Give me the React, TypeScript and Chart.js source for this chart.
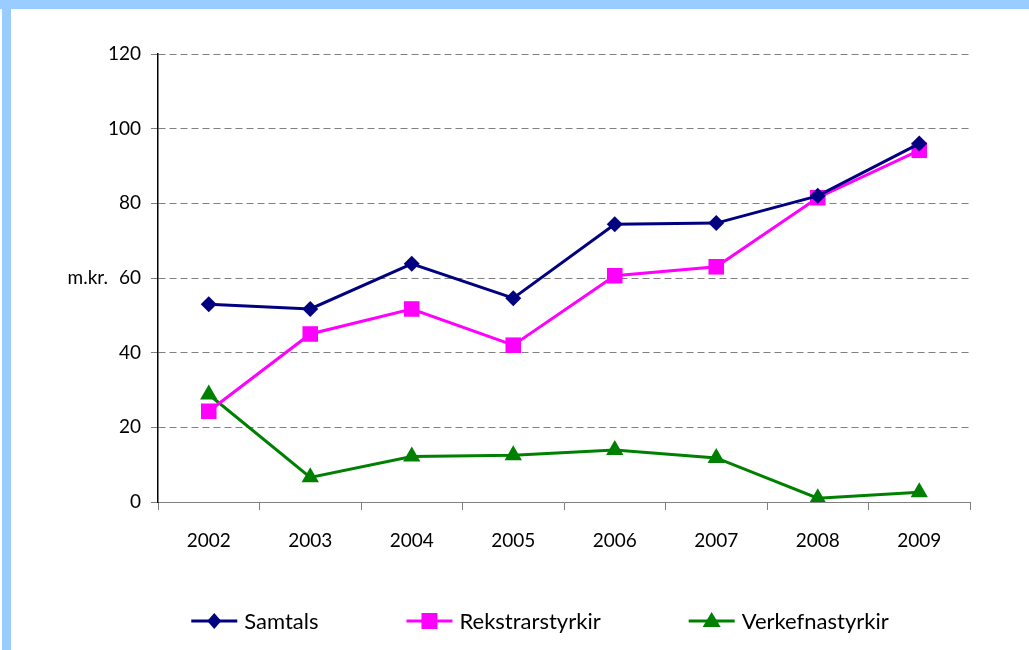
import React, { useEffect, useRef } from "react";
import { Chart, registerables } from "chart.js";

Chart.register(...registerables);

const years = ["2002", "2003", "2004", "2005", "2006", "2007", "2008", "2009"];
const samtals = [53.0, 51.7, 63.8, 54.6, 74.4, 74.7, 82.0, 96.0];
const rekstrarstyrkir = [24.3, 45.0, 51.7, 42.0, 60.6, 63.0, 81.5, 94.2];
const verkefnastyrkir = [28.8, 6.6, 12.2, 12.5, 13.9, 11.8, 1.0, 2.6];
const yMax = 120;
const yStep = 20;
const yUnitLabel = "m.kr.";
const yUnitAt = 60;
const seriesNames = ["Samtals", "Rekstrarstyrkir", "Verkefnastyrkir"];

const FONT = "Lato, 'Noto Sans', sans-serif";

function drawMarker(ctx: CanvasRenderingContext2D, style: string, x: number, y: number, color: string) {
  ctx.save();
  ctx.fillStyle = color;
  ctx.beginPath();
  if (style === "rectRot") {
    ctx.moveTo(x, y - 8);
    ctx.lineTo(x + 7, y);
    ctx.lineTo(x, y + 8);
    ctx.lineTo(x - 7, y);
  } else if (style === "rect") {
    ctx.rect(x - 8, y - 8, 16, 16);
  } else {
    ctx.moveTo(x, y - 9);
    ctx.lineTo(x + 9, y + 6);
    ctx.lineTo(x - 9, y + 6);
  }
  ctx.closePath();
  ctx.fill();
  ctx.restore();
}

const extrasPlugin = {
  id: "extras",
  afterDraw(chart: any) {
    const ctx = chart.ctx as CanvasRenderingContext2D;
    const yScale = chart.scales.y;
    ctx.save();
    ctx.font = `19px ${FONT}`;
    ctx.fillStyle = "#000";
    ctx.textAlign = "right";
    ctx.textBaseline = "middle";
    ctx.fillText(yUnitLabel, 108, yScale.getPixelForValue(yUnitAt));
    ctx.restore();

    ctx.save();
    ctx.font = `22px ${FONT}`;
    ctx.textBaseline = "middle";
    ctx.textAlign = "left";
    const lineW = 46;
    const gapText = 7;
    const gapItems = 88;
    const ds = chart.data.datasets;
    const widths = ds.map((d: any) => lineW + gapText + ctx.measureText(d.label).width);
    const total = widths.reduce((a: number, b: number) => a + b, 0) + gapItems * (ds.length - 1);
    let x = 540 - total / 2;
    const y = 621;
    ds.forEach((d: any, i: number) => {
      ctx.strokeStyle = d.borderColor;
      ctx.lineWidth = 3;
      ctx.beginPath();
      ctx.moveTo(x, y);
      ctx.lineTo(x + lineW, y);
      ctx.stroke();
      drawMarker(ctx, d.pointStyle, x + lineW / 2, y, d.borderColor);
      ctx.fillStyle = "#000";
      ctx.fillText(d.label, x + lineW + gapText, y + 1);
      x += widths[i] + gapItems;
    });
    ctx.restore();
  },
};

export default function App() {
  const ref = useRef<HTMLCanvasElement | null>(null);
  useEffect(() => {
    if (!ref.current) return;
    const chart = new Chart(ref.current, {
      type: "line",
      data: {
        labels: years,
        datasets: [
          {
            label: seriesNames[0],
            data: samtals,
            borderColor: "#000080",
            backgroundColor: "#000080",
            borderWidth: 3,
            pointStyle: "rectRot",
            pointRadius: 8,
            pointBorderWidth: 0,
            tension: 0,
          },
          {
            label: seriesNames[1],
            data: rekstrarstyrkir,
            borderColor: "#FF00FF",
            backgroundColor: "#FF00FF",
            borderWidth: 3,
            pointStyle: "rect",
            pointRadius: 11,
            pointBorderWidth: 0,
            tension: 0,
          },
          {
            label: seriesNames[2],
            data: verkefnastyrkir,
            borderColor: "#008000",
            backgroundColor: "#008000",
            borderWidth: 3,
            pointStyle: "triangle",
            pointRadius: 10,
            pointBorderWidth: 0,
            tension: 0,
          },
        ],
      },
      options: {
        animation: false,
        responsive: false,
        maintainAspectRatio: false,
        layout: { padding: { top: 54, right: 59, left: 0, bottom: 0 } },
        plugins: { legend: { display: false }, tooltip: { enabled: false } },
        scales: {
          x: {
            offset: true,
            afterFit: (s: any) => {
              s.height = 148;
            },
            grid: {
              offset: true,
              drawOnChartArea: false,
              drawTicks: true,
              tickLength: 8,
              color: "#808080",
            },
            border: { display: true, color: "#808080", width: 1 },
            ticks: { font: { family: FONT, size: 19 }, color: "#000", padding: 19 },
          },
          y: {
            min: 0,
            max: yMax,
            afterFit: (s: any) => {
              s.width = 158;
            },
            ticks: { stepSize: yStep, font: { family: FONT, size: 19 }, color: "#000", padding: 10 },
            grid: {
              color: "#808080",
              tickBorderDash: [],
              tickLength: 7,
              tickColor: "#808080",
            } as any,
            border: { display: true, color: "#000", width: 1.5, dash: [7, 4] } as any,
          },
        },
      },
      plugins: [extrasPlugin],
    } as any);
    return () => chart.destroy();
  }, []);

  return (
    <div style={{ position: "fixed", left: 0, top: 0, width: 1029, height: 650, background: "#fff" }}>
      <canvas ref={ref} width={1029} height={650} style={{ position: "absolute", left: 0, top: 0 }} />
      <div style={{ position: "absolute", left: 0, top: 0, width: 1029, height: 9, background: "#99CCFF" }} />
      <div style={{ position: "absolute", left: 2, top: 0, width: 9, height: 650, background: "#99CCFF" }} />
    </div>
  );
}
